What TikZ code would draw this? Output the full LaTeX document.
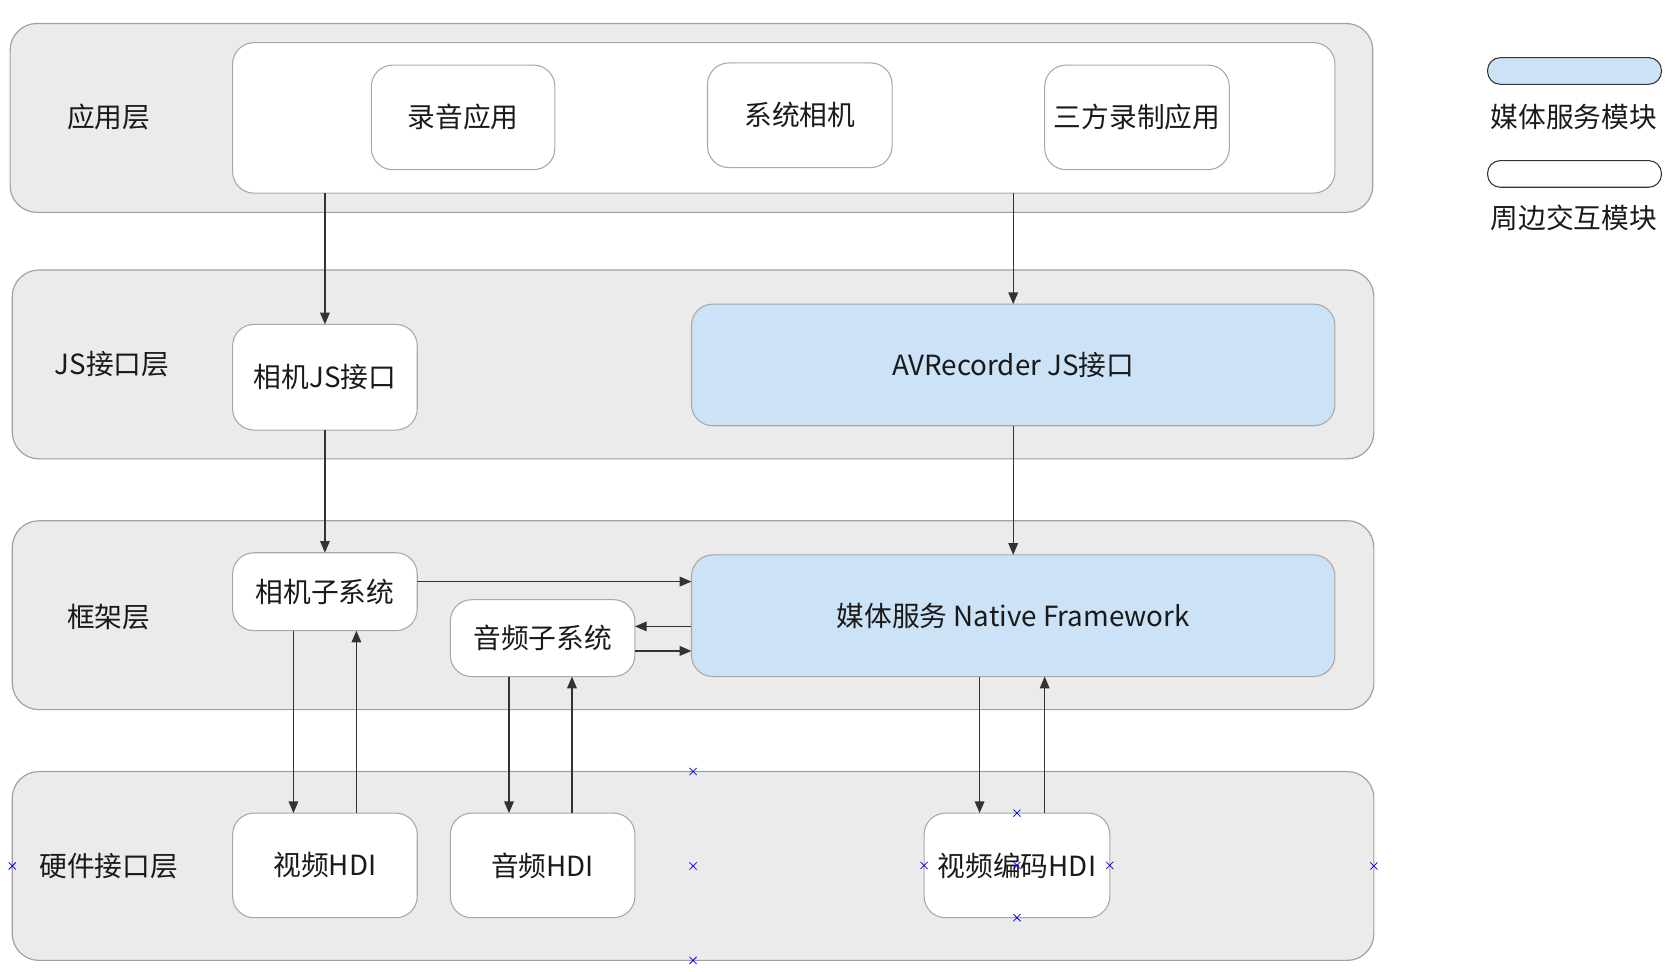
\documentclass[tikz,border=0pt]{standalone}
\usepackage{fontspec}
\setmainfont{Noto Sans CJK SC}
\usetikzlibrary{arrows.meta,shapes.misc}
\definecolor{layerfill}{HTML}{EBEBEB}
\definecolor{layerdraw}{HTML}{A0A0A0}
\definecolor{boxdraw}{HTML}{A8A8A8}
\definecolor{bluefill}{HTML}{CCE2F6}
\definecolor{arrowcol}{HTML}{333333}
\definecolor{txt}{HTML}{1A1A1A}
\tikzset{
  layer/.style={draw=layerdraw, fill=layerfill, line width=1.1pt, rounded corners=25pt, inner sep=0pt, outer sep=0pt},
  whitebox/.style={draw=boxdraw, fill=white, line width=1pt, rounded corners=20pt, inner sep=0pt, outer sep=0pt, text=txt, font=\fontsize{26}{31}\selectfont},
  bluebox/.style={whitebox, fill=bluefill},
  lbl/.style={text=txt, font=\fontsize{26}{31}\selectfont, inner sep=0pt},
  arr/.style={draw=arrowcol, line width=1.2pt, -{Triangle[length=11pt,width=9pt]}},
  legendbox/.style={draw=arrowcol, line width=1pt, rounded corners=12pt, minimum width=163pt, minimum height=25pt, inner sep=0pt},
  xmk/.style={cross out, draw=blue, line width=0.7pt, minimum size=6pt, inner sep=0pt}
}
\begin{document}
\begin{tikzpicture}[x=1pt,y=-1pt]
\useasboundingbox (0,0) rectangle (1565,910);
% layers
\node[layer, minimum width=1277pt, minimum height=177pt] (l1) at (648,110.5) {};
\node[layer, minimum width=1276pt, minimum height=177pt] (l2) at (649.5,341.5) {};
\node[layer, minimum width=1276pt, minimum height=177pt] (l3) at (649.5,576.5) {};
\node[layer, minimum width=1276pt, minimum height=177pt] (hw) at (649.5,811.5) {};
\node[lbl] (t1) at (102,110) {应用层};
\node[lbl] (t2) at (105,341) {JS接口层};
\node[lbl] (t3) at (102,578) {框架层};
\node[lbl] (t4) at (102,812) {硬件接口层};
% application layer
\node[whitebox, minimum width=1033pt, minimum height=141pt] (app) at (734.5,110.5) {};
\node[whitebox, minimum width=172pt, minimum height=98pt] (rec) at (434,110) {录音应用};
\node[whitebox, minimum width=173pt, minimum height=98pt] (sys) at (749.5,108) {系统相机};
\node[whitebox, minimum width=173pt, minimum height=98pt] (third) at (1065.5,110) {三方录制应用};
% JS layer
\node[whitebox, minimum width=173pt, minimum height=99pt] (camjs) at (304.5,353.5) {相机JS接口};
\node[bluebox, minimum width=603pt, minimum height=114pt] (avjs) at (949.5,342) {AVRecorder JS接口};
% framework layer
\node[whitebox, minimum width=173pt, minimum height=73pt] (camsub) at (304.5,554.5) {相机子系统};
\node[whitebox, minimum width=173pt, minimum height=72pt] (audsub) at (508.5,598) {音频子系统};
\node[bluebox, minimum width=603pt, minimum height=114pt] (native) at (949.5,577) {媒体服务 Native Framework};
% hardware layer
\node[whitebox, minimum width=173pt, minimum height=98pt] (vhdi) at (304.5,811) {视频HDI};
\node[whitebox, minimum width=173pt, minimum height=98pt] (ahdi) at (508.5,811) {音频HDI};
\node[whitebox, minimum width=174pt, minimum height=98pt] (vcodec) at (953,811) {视频编码HDI};
% legend
\node[legendbox, fill=bluefill] (lg1) at (1475.5,66.5) {};
\node[lbl] (lg1t) at (1475,110) {媒体服务模块};
\node[legendbox, fill=white] (lg2) at (1475.5,163) {};
\node[lbl] (lg2t) at (1475,204) {周边交互模块};
% connectors
\draw[arr] (app.south -| camjs.north) -- (camjs.north);
\draw[arr] (app.south -| avjs.north) -- (avjs.north);
\draw[arr] (camjs.south) -- (camsub.north);
\draw[arr] (avjs.south) -- (native.north);
\draw[arr] ([yshift=9.5pt]camsub.east) -- ([yshift=9.5pt]camsub.east -| native.west);
\draw[arr] ([yshift=11pt]native.west |- audsub.east) -- ([yshift=11pt]audsub.east);
\draw[arr] ([yshift=-12pt]audsub.east) -- ([yshift=-12pt]native.west |- audsub.east);
\draw[arr] ([xshift=-29.5pt]camsub.south) -- ([xshift=-29.5pt]vhdi.north);
\draw[arr] ([xshift=29.5pt]vhdi.north) -- ([xshift=29.5pt]camsub.south);
\draw[arr] ([xshift=-31.5pt]audsub.south) -- ([xshift=-31.5pt]ahdi.north);
\draw[arr] ([xshift=27.5pt]ahdi.north) -- ([xshift=27.5pt]audsub.south);
\draw[arr] ([xshift=-31.5pt]native.south) -- ([xshift=-35pt]vcodec.north);
\draw[arr] ([xshift=26pt]vcodec.north) -- ([xshift=29.5pt]native.south);
% selection marks
\foreach \a in {north,center,south,west,east} \node[xmk] at (hw.\a) {};
\foreach \a in {north,center,south,west,east} \node[xmk] at (vcodec.\a) {};
\end{tikzpicture}
\end{document}
